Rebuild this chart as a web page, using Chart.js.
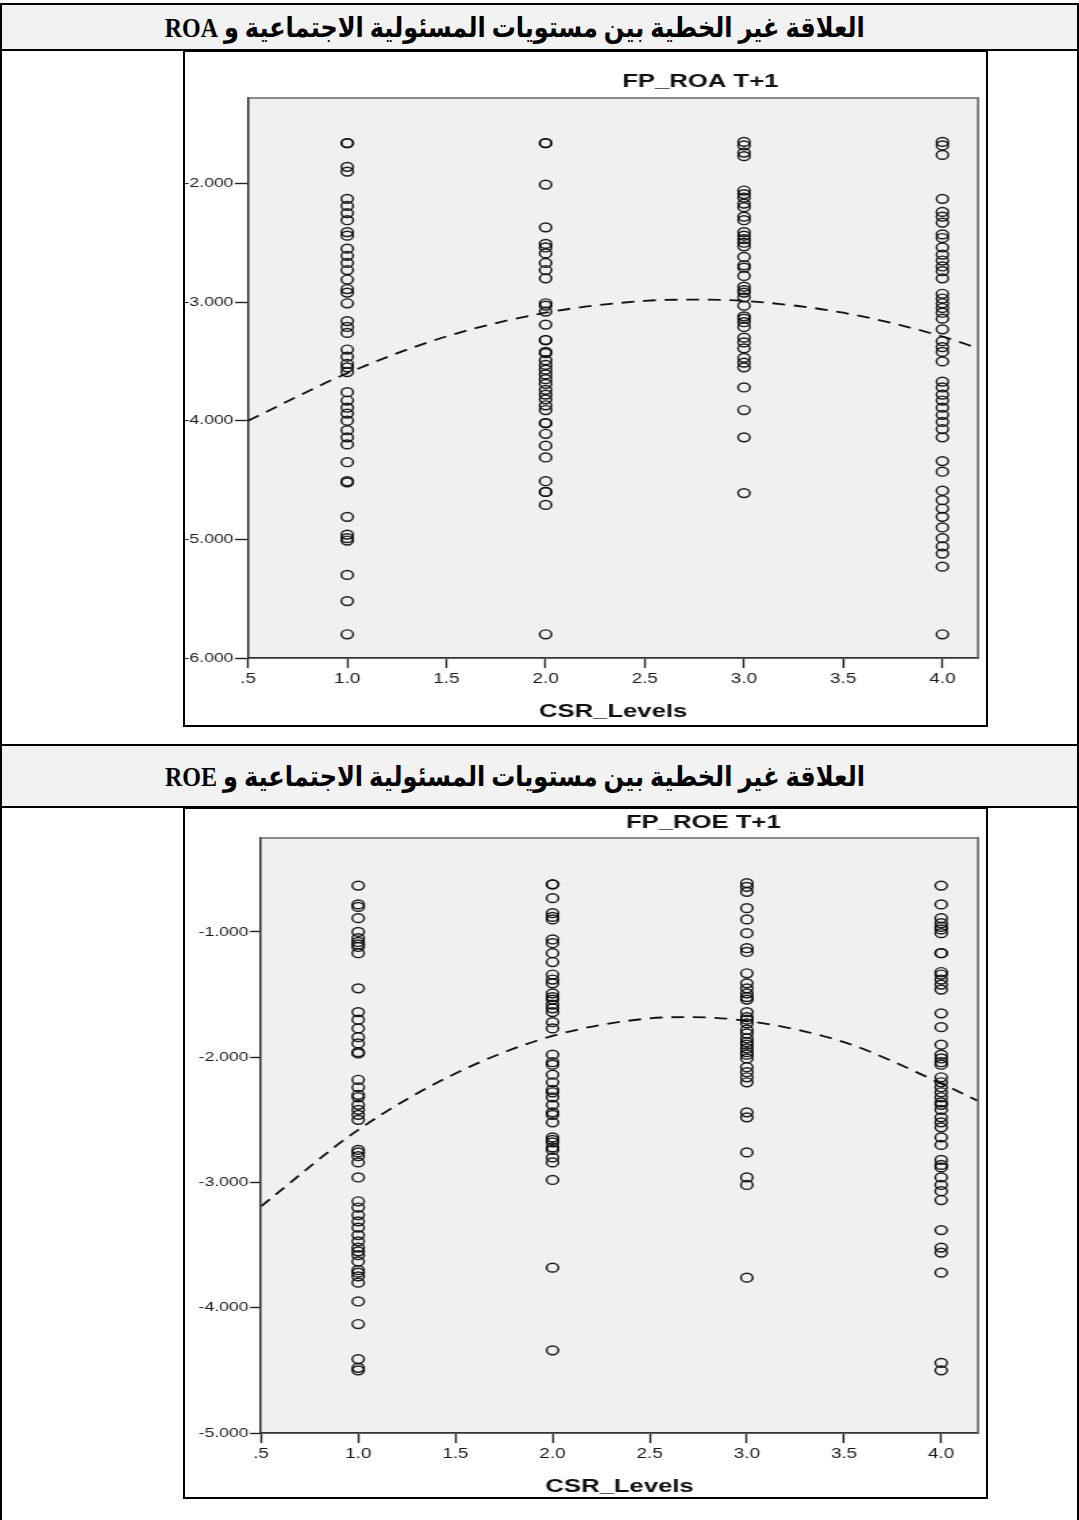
<!DOCTYPE html>
<html lang="ar">
<head>
<meta charset="utf-8">
<title>CSR_Levels</title>
<script src="https://cdn.jsdelivr.net/npm/chart.js@4.4.1/dist/chart.umd.min.js"></script>
<style>
  html, body { margin: 0; padding: 0; background: #fff; }
  #page { position: relative; width: 1079px; height: 1520px; overflow: hidden; background: #fff; }
  .rule { position: absolute; background: #000; }
  .band { position: absolute; left: 2px; width: 1075px; background: #f2f2f2; }
  .band span {
    position: absolute; white-space: nowrap; direction: rtl; unicode-bidi: embed;
    font-family: "Liberation Serif", "DejaVu Sans", serif; font-weight: bold; color: #000;
    transform-origin: center center;
  }
  .box { position: absolute; border: 2px solid #000; box-sizing: border-box; background: #fff; }
  .box canvas { position: absolute; left: 0; top: 0; display: block; }
</style>
</head>
<body>
<div id="page"></div>
<script>
// ---- data ----------------------------------------------------------------
const csrLevels = [1, 2, 3, 4];

// FP_ROA T+1 observations, one array per CSR level
const roaLevel1 = [-1.66, -1.66, -1.86, -1.90, -2.13, -2.19, -2.25, -2.31, -2.41, -2.44, -2.55, -2.61, -2.67, -2.73, -2.81, -2.89, -2.92, -3.01, -3.16, -3.21, -3.26, -3.40, -3.46, -3.52, -3.55, -3.59, -3.76, -3.83, -3.89, -3.94, -4.00, -4.08, -4.14, -4.20, -4.35, -4.51, -4.52, -4.81, -4.96, -4.99, -5.01, -5.30, -5.52, -5.80];
const roaLevel2 = [-1.66, -1.66, -2.01, -2.37, -2.51, -2.54, -2.59, -2.67, -2.73, -2.80, -3.01, -3.03, -3.08, -3.19, -3.32, -3.32, -3.42, -3.43, -3.49, -3.53, -3.57, -3.61, -3.65, -3.69, -3.74, -3.78, -3.82, -3.87, -3.91, -4.02, -4.02, -4.11, -4.21, -4.31, -4.51, -4.60, -4.60, -4.71, -5.80];
const roaLevel3 = [-1.65, -1.68, -1.74, -1.77, -2.06, -2.09, -2.12, -2.17, -2.20, -2.28, -2.31, -2.41, -2.44, -2.47, -2.50, -2.53, -2.62, -2.69, -2.71, -2.78, -2.87, -2.90, -2.92, -2.96, -3.03, -3.12, -3.14, -3.17, -3.21, -3.30, -3.34, -3.39, -3.47, -3.51, -3.55, -3.72, -3.91, -4.14, -4.61];
const roaLevel4 = [-1.65, -1.68, -1.76, -2.13, -2.24, -2.28, -2.33, -2.43, -2.46, -2.54, -2.60, -2.65, -2.70, -2.74, -2.80, -2.93, -2.97, -3.01, -3.05, -3.09, -3.14, -3.23, -3.33, -3.38, -3.42, -3.50, -3.67, -3.72, -3.78, -3.83, -3.89, -3.95, -4.01, -4.07, -4.14, -4.34, -4.43, -4.59, -4.67, -4.74, -4.81, -4.90, -4.99, -5.06, -5.12, -5.23, -5.80];

// FP_ROE T+1 observations, one array per CSR level
const roeLevel1 = [-0.63, -0.78, -0.80, -0.89, -1.00, -1.05, -1.08, -1.10, -1.12, -1.17, -1.45, -1.64, -1.70, -1.77, -1.84, -1.89, -1.96, -1.97, -2.18, -2.24, -2.30, -2.32, -2.38, -2.42, -2.46, -2.50, -2.74, -2.76, -2.79, -2.84, -2.96, -3.15, -3.20, -3.26, -3.31, -3.36, -3.42, -3.47, -3.52, -3.55, -3.58, -3.63, -3.70, -3.72, -3.75, -3.80, -3.95, -4.13, -4.41, -4.48, -4.50];
const roeLevel2 = [-0.62, -0.62, -0.73, -0.85, -0.88, -0.90, -1.06, -1.09, -1.17, -1.24, -1.34, -1.38, -1.41, -1.49, -1.52, -1.54, -1.58, -1.61, -1.64, -1.72, -1.77, -1.98, -2.04, -2.06, -2.14, -2.20, -2.26, -2.28, -2.32, -2.38, -2.44, -2.46, -2.52, -2.64, -2.66, -2.68, -2.72, -2.74, -2.80, -2.84, -2.98, -3.68, -4.34];
const roeLevel3 = [-0.61, -0.64, -0.68, -0.81, -0.90, -1.01, -1.13, -1.16, -1.33, -1.41, -1.45, -1.49, -1.52, -1.54, -1.64, -1.68, -1.70, -1.73, -1.78, -1.81, -1.85, -1.88, -1.90, -1.93, -1.96, -1.98, -2.01, -2.08, -2.12, -2.16, -2.20, -2.44, -2.48, -2.76, -2.96, -3.02, -3.76];
const roeLevel4 = [-0.63, -0.78, -0.89, -0.93, -0.96, -0.98, -1.01, -1.17, -1.17, -1.32, -1.34, -1.38, -1.42, -1.46, -1.65, -1.76, -1.90, -1.98, -2.01, -2.04, -2.06, -2.16, -2.20, -2.24, -2.28, -2.32, -2.36, -2.38, -2.42, -2.48, -2.52, -2.56, -2.64, -2.70, -2.82, -2.86, -2.88, -2.96, -3.02, -3.07, -3.14, -3.38, -3.52, -3.56, -3.72, -4.44, -4.50];

// quadratic fit lines (dashed)
const roaFitX = [0.5, 1.0, 1.5, 2.0, 2.5, 2.75, 3.0, 3.5, 4.0, 4.18];
const roaFitY = [-4.00, -3.60, -3.29, -3.09, -2.99, -2.98, -2.99, -3.09, -3.29, -3.39];
const roeFitX = [0.5, 1.0, 1.5, 2.0, 2.5, 2.7, 3.0, 3.5, 4.0, 4.19];
const roeFitY = [-3.19, -2.58, -2.13, -1.83, -1.69, -1.68, -1.71, -1.88, -2.21, -2.35];

// axis ranges and tick values
const xTickValues = [0.5, 1.0, 1.5, 2.0, 2.5, 3.0, 3.5, 4.0];
const roaXRange = [0.5, 4.18];
const roeXRange = [0.5, 4.19];
const roaYRange = [-6, -1.28];
const roeYRange = [-5, -0.25];
const roaYTicks = [-6, -5, -4, -3, -2];
const roeYTicks = [-5, -4, -3, -2, -1];

// text
const roaHeading = 'العلاقة غير الخطية بين مستويات المسئولية الاجتماعية و ROA';
const roeHeading = 'العلاقة غير الخطية بين مستويات المسئولية الاجتماعية و ROE';
const roaTitle = 'FP_ROA T+1';
const roeTitle = 'FP_ROE T+1';
const xAxisTitle = 'CSR_Levels';

// ---- page frame ----------------------------------------------------------
const page = document.getElementById('page');
const STRETCH = 1.35;         // charts are drawn narrow and widened, like the pasted SPSS graphic
const BORDER = 2;
const SANS = '"Liberation Sans", Arial, sans-serif';

function rule(x, y, w, h) {
  const d = document.createElement('div');
  d.className = 'rule';
  Object.assign(d.style, { left: x + 'px', top: y + 'px', width: w + 'px', height: h + 'px' });
  page.appendChild(d);
}

function band(top, height, text, centerX, textWidth, fontSize) {
  const b = document.createElement('div');
  b.className = 'band';
  b.style.top = top + 'px';
  b.style.height = height + 'px';
  const s = document.createElement('span');
  s.textContent = text;
  s.style.fontSize = fontSize + 'px';
  b.appendChild(s);
  page.appendChild(b);
  const r = s.getBoundingClientRect();
  const k = textWidth / r.width;
  s.style.left = (centerX - 2 - r.width / 2) + 'px';
  s.style.top = (height / 2 - r.height / 2) + 'px';
  s.style.transform = 'scaleX(' + k + ')';
}

// frame lines of the surrounding table
rule(0, 3, 1079, 2);
rule(0, 3, 2, 1517);
rule(1077, 3, 2, 1517);
band(5, 44, roaHeading, 515, 700, 28);
rule(0, 49, 1079, 2);
rule(0, 744, 1079, 2);
band(746, 60, roeHeading, 515, 700, 28);
rule(0, 806, 1079, 2);

// ---- charts --------------------------------------------------------------
const plotFrame = {
  id: 'plotFrame',
  beforeDraw(chart) {
    const a = chart.chartArea, ctx = chart.ctx;
    ctx.save();
    ctx.fillStyle = '#f0f0f0';
    ctx.fillRect(a.left, a.top, a.right - a.left, a.bottom - a.top);
    ctx.restore();
  },
  afterDraw(chart) {
    const a = chart.chartArea, ctx = chart.ctx;
    const o = chart.options.plugins.plotFrame;
    ctx.save();
    ctx.strokeStyle = '#666';
    ctx.lineWidth = 1.6;
    ctx.beginPath();
    ctx.moveTo(a.left, a.top); ctx.lineTo(a.right, a.top); ctx.lineTo(a.right, a.bottom);
    ctx.stroke();
    ctx.fillStyle = '#111';
    ctx.font = 'bold 19px ' + SANS;
    ctx.textAlign = 'center';
    ctx.textBaseline = 'middle';
    ctx.fillText(o.title, o.titleX, o.titleY);
    ctx.restore();
  }
};

function fmtX(v) {
  const s = v.toFixed(1);
  return s.startsWith('0.') ? s.slice(1) : s;
}

function makeChart(spec) {
  const box = document.createElement('div');
  box.className = 'box';
  Object.assign(box.style, {
    left: spec.box.left + 'px', top: spec.box.top + 'px',
    width: spec.box.width + 'px', height: spec.box.height + 'px'
  });
  const cssW = spec.box.width - 2 * BORDER;
  const cssH = spec.box.height - 2 * BORDER;
  const w = Math.round(cssW / STRETCH);
  const canvas = document.createElement('canvas');
  canvas.setAttribute('width', w);
  canvas.setAttribute('height', cssH);
  canvas.style.width = cssW + 'px';
  canvas.style.height = cssH + 'px';
  box.appendChild(canvas);
  page.appendChild(box);

  const ox = spec.box.left + BORDER, oy = spec.box.top + BORDER;
  const toX = px => (px - ox) / STRETCH;
  const toY = py => py - oy;
  const left = toX(spec.plot.left), right = toX(spec.plot.right);
  const top = toY(spec.plot.top), bottom = toY(spec.plot.bottom);

  const points = [];
  csrLevels.forEach((lv, i) => spec.columns[i].forEach(v => points.push({ x: lv, y: v })));
  const curve = spec.fitX.map((x, i) => ({ x, y: spec.fitY[i] }));

  return new Chart(canvas, {
    type: 'scatter',
    data: {
      datasets: [
        {
          data: points,
          pointStyle: 'circle',
          pointRadius: 4.4,
          pointBorderWidth: 1.45,
          pointBorderColor: 'rgba(10,10,10,0.92)',
          pointBackgroundColor: 'rgba(0,0,0,0)',
          showLine: false
        },
        {
          data: curve,
          showLine: true,
          pointRadius: 0,
          borderColor: '#111',
          borderWidth: 1.8,
          borderDash: [9.5, 6.5],
          cubicInterpolationMode: 'monotone',
          fill: false
        }
      ]
    },
    options: {
      responsive: false,
      animation: false,
      devicePixelRatio: 1,
      events: [],
      layout: { padding: { left: 0, top: top, right: w - right, bottom: 0 } },
      plugins: {
        legend: { display: false },
        tooltip: { enabled: false },
        plotFrame: { title: spec.title, titleX: toX(spec.titlePos.x), titleY: toY(spec.titlePos.y) }
      },
      scales: {
        x: {
          type: 'linear',
          min: spec.xRange[0], max: spec.xRange[1],
          afterFit(s) { s.height = cssH - bottom; },
          afterBuildTicks(s) { s.ticks = xTickValues.map(value => ({ value })); },
          grid: { drawOnChartArea: false, drawTicks: true, tickLength: 10, tickColor: '#222', tickWidth: 1.4 },
          border: { display: true, color: '#333', width: 1.8 },
          ticks: { font: { family: SANS, size: 14 }, color: '#1a1a1a', padding: 3, maxRotation: 0, autoSkip: false, callback: v => fmtX(v) },
          title: {
            display: true, text: xAxisTitle, color: '#111',
            font: { family: SANS, size: 19, weight: 'bold', lineHeight: 1 },
            padding: { top: 0, bottom: spec.axisTitlePad }
          }
        },
        y: {
          type: 'linear',
          min: spec.yRange[0], max: spec.yRange[1],
          afterFit(s) { s.width = left; },
          afterBuildTicks(s) { s.ticks = spec.yTicks.map(value => ({ value })); },
          grid: { drawOnChartArea: false, drawTicks: true, tickLength: spec.yTickLen / STRETCH, tickColor: '#222', tickWidth: 1.4 },
          border: { display: true, color: '#333', width: 1.6 },
          ticks: { font: { family: SANS, size: 13 }, color: '#1a1a1a', padding: 1.2, autoSkip: false, callback: v => v.toFixed(3) }
        }
      }
    },
    plugins: [plotFrame]
  });
}

makeChart({
  box: { left: 183, top: 50, width: 805, height: 677 },
  plot: { left: 248, right: 980, top: 98, bottom: 658 },
  titlePos: { x: 700, y: 82 },
  title: roaTitle,
  columns: [roaLevel1, roaLevel2, roaLevel3, roaLevel4],
  fitX: roaFitX, fitY: roaFitY,
  xRange: roaXRange, yRange: roaYRange, yTicks: roaYTicks,
  yTickLen: 13, axisTitlePad: 4
});

makeChart({
  box: { left: 183, top: 807, width: 805, height: 692 },
  plot: { left: 261, right: 979, top: 838, bottom: 1433 },
  titlePos: { x: 703, y: 823 },
  title: roeTitle,
  columns: [roeLevel1, roeLevel2, roeLevel3, roeLevel4],
  fitX: roeFitX, fitY: roeFitY,
  xRange: roeXRange, yRange: roeYRange, yTicks: roeYTicks,
  yTickLen: 11, axisTitlePad: 1
});
</script>
</body>
</html>
